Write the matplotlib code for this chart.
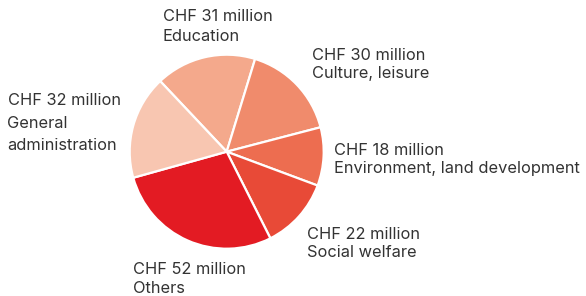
import matplotlib
matplotlib.use("Agg")
import matplotlib.pyplot as plt

categories = ["Education", "Culture, leisure", "Environment, land development",
              "Social welfare", "Others", "General administration"]
values = [31, 30, 18, 22, 52, 32]
amount_labels = ["CHF 31 million", "CHF 30 million", "CHF 18 million",
                 "CHF 22 million", "CHF 52 million", "CHF 32 million"]
colors = ["#f4a98c", "#f08b6c", "#ed6d50", "#e84a37", "#e31b23", "#f8c6b1"]

plt.rcParams['font.family'] = ['Inter', 'DejaVu Sans']

W, H = 586, 296
fig = plt.figure(figsize=(W / 100, H / 100), dpi=100)
cx, cy, r = 226.7, 151.7, 97
ax = fig.add_axes([(cx - r) / W, (H - cy - r) / H, 2 * r / W, 2 * r / H])
ax.pie(values, colors=colors, startangle=133.3, counterclock=False, radius=1,
       wedgeprops=dict(edgecolor="white", linewidth=1.6))
ax.set_xlim(-1, 1)
ax.set_ylim(-1, 1)
ax.set_aspect("equal")
ax.axis("off")

tc = "#333333"
fs = 11.8
label_pos = [
    (163, [9.0, 29.0]),
    (312, [48.0, 66.4]),
    (334, [142.7, 161.4]),
    (307, [227.4, 245.4]),
    (133, [262.4, 281.2]),
    (7.5, [92.7, 116.4, 137.7]),
]
lines_list = [
    [amount_labels[0], "Education"],
    [amount_labels[1], "Culture, leisure"],
    [amount_labels[2], "Environment, land development"],
    [amount_labels[3], "Social welfare"],
    [amount_labels[4], "Others"],
    [amount_labels[5], "General", "administration"],
]
for (x, ys), lines in zip(label_pos, lines_list):
    for line, y in zip(lines, ys):
        fig.text(x / W, 1 - y / H, line, ha="left", va="top", fontsize=fs, color=tc)

fig.savefig("out.png", dpi=100)
